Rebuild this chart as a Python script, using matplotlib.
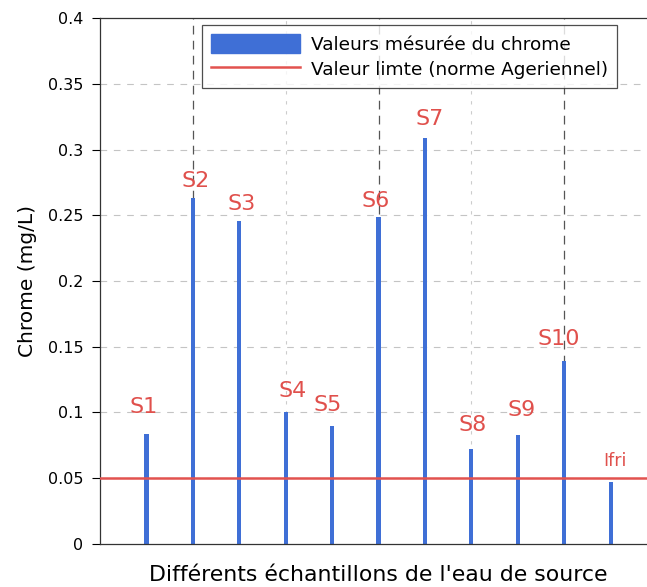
import matplotlib
matplotlib.use("Agg")
import matplotlib.pyplot as plt
from matplotlib.patches import Patch
from matplotlib.lines import Line2D

# Sample names and measured chromium concentrations (mg/L)
samples = ["S1", "S2", "S3", "S4", "S5", "S6", "S7", "S8", "S9", "S10", "Ifri"]
chrome = [0.084, 0.263, 0.246, 0.100, 0.090, 0.249, 0.309, 0.072, 0.083, 0.139, 0.047]
limit_value = 0.05
y_ticks = [0, 0.05, 0.1, 0.15, 0.2, 0.25, 0.3, 0.35, 0.4]
y_tick_labels = ["0", "0.05", "0.1", "0.15", "0.2", "0.25", "0.3", "0.35", "0.4"]

bar_color = "#3f6fd6"
red = "#e2524f"
label_red = "#e0504c"

fig = plt.figure(figsize=(6.47, 5.87), dpi=100)
ax = fig.add_axes([0.1546, 0.0733, 0.861, 0.896])

x = list(range(1, len(samples) + 1))

# grid
for yv in y_ticks[1:-1]:
    ax.axhline(yv, color="#c4c4c4", lw=0.8, ls=(0, (6, 6)), zorder=0)
for xv in (2, 6, 10):
    ax.axvline(xv, color="#555555", lw=0.9, ls=(0, (7, 5)), zorder=0)
for xv in (4, 8):
    ax.axvline(xv, color="#cccccc", lw=0.8, ls=(0, (3, 6)), zorder=0)

ax.bar(x, chrome, width=0.09, color=bar_color, zorder=2)
ax.axhline(limit_value, color=red, lw=1.8, zorder=3)

# sample labels above each bar
label_offsets = [(-2, 12), (2, 5), (2, 5), (5, 8), (-3, 8), (-2, 4), (3, 6), (1, 10), (3, 11), (-4, 9), (3, 9)]
for xi, v, name, (dx, dy) in zip(x, chrome, samples, label_offsets):
    ax.annotate(name, (xi, v), xytext=(dx, dy), textcoords="offset points",
                ha="center", va="bottom", color=label_red,
                fontsize=12.5 if name == "Ifri" else 16, zorder=4)

ax.set_xlim(0, 12)
ax.set_ylim(0, 0.4)
ax.set_xticks([])
ax.set_yticks(y_ticks)
ax.set_yticklabels(y_tick_labels, fontsize=11.5)
ax.tick_params(axis="y", direction="out", length=6, width=0.8, pad=6)

for s in ("left", "bottom", "top"):
    ax.spines[s].set_color("#333333")
    ax.spines[s].set_linewidth(0.9)
ax.spines["right"].set_visible(False)

ax.set_ylabel("Chrome (mg/L)", fontsize=14.5, labelpad=8)
ax.set_xlabel("Différents échantillons de l'eau de source", fontsize=15.8, labelpad=15)

handles = [Patch(facecolor=bar_color, edgecolor=bar_color),
           Line2D([0], [0], color=red, lw=1.8)]
leg = ax.legend(handles, ["Valeurs mésurée du chrome", "Valeur limte (norme Ageriennel)"],
                loc="upper right", bbox_to_anchor=(0.928, 0.987), fontsize=13.3,
                frameon=True, fancybox=False, edgecolor="#222222",
                handlelength=4.8, handleheight=1.2, borderpad=0.5,
                labelspacing=0.3, handletextpad=0.6, borderaxespad=0)
leg.get_frame().set_linewidth(0.9)

fig.savefig("out.png", dpi=100)
